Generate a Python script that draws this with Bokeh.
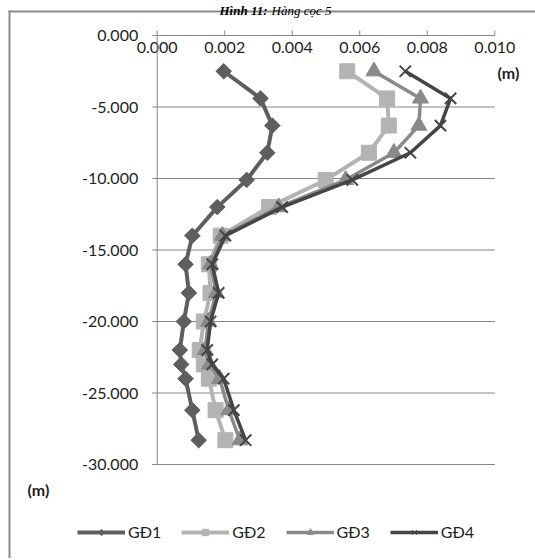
from bokeh.plotting import figure
from bokeh.models import Range1d, Legend, LegendItem, Label
from bokeh.core.properties import value
from bokeh.embed import file_html
from bokeh.resources import INLINE
import math

# ---- data (horizontal displacement in m vs depth in m) ----
depth = [-2.5, -4.4, -6.3, -8.2, -10.1, -12.0, -14.0, -16.0, -18.0, -20.0, -22.0, -23.0, -24.0, -26.2, -28.3]
gd1 = [0.00197, 0.00306, 0.00341, 0.00326, 0.00265, 0.00178, 0.00104, 0.00084, 0.00094, 0.00079, 0.00067, 0.00071, 0.00084, 0.00104, 0.00123]
gd2 = [0.00563, 0.00681, 0.00686, 0.00627, 0.00499, 0.00331, 0.00188, 0.00153, 0.00158, 0.00138, 0.00126, 0.00138, 0.00153, 0.00173, 0.00202]
gd3 = [0.00642, 0.00780, 0.00775, 0.00701, 0.00558, 0.00360, 0.00193, 0.00158, 0.00175, 0.00152, 0.00142, 0.00155, 0.00185, 0.00212, 0.00245]
gd4 = [0.00735, 0.00869, 0.00839, 0.00750, 0.00578, 0.00370, 0.00202, 0.00163, 0.00182, 0.00158, 0.00148, 0.00163, 0.00197, 0.00227, 0.00262]
series_names = ["GĐ1", "GĐ2", "GĐ3", "GĐ4"]

x_tick_values = [0.0, 0.002, 0.004, 0.006, 0.008, 0.010]
x_tick_labels = ["0.000", "0.002", "0.004", "0.006", "0.008", "0.010"]
y_tick_values = [0, -5, -10, -15, -20, -25, -30]
y_tick_labels = ["0.000", "-5.000", "-10.000", "-15.000", "-20.000", "-25.000", "-30.000"]
unit_label = "(m)"
caption_bold = "Hình 11:"
caption_rest = "Hàng cọc 5"

# ---- layout (page pixels, measured from the top-left corner) ----
W, H = 535, 558
PX_LEFT, PX_RIGHT = 156.7, 494.3   # page x of the first / last x tick
PX_TOP, PX_BOTTOM = 35.0, 464.0     # page y of the first / last y tick

x_min, x_max = x_tick_values[0], x_tick_values[-1]
y_max, y_min = y_tick_values[0], y_tick_values[-1]
kx = (PX_RIGHT - PX_LEFT) / (x_max - x_min)
ky = (PX_BOTTOM - PX_TOP) / (y_max - y_min)
X_START = x_min - PX_LEFT / kx
X_END = X_START + W / kx
Y_END = y_max + PX_TOP / ky
Y_START = Y_END - H / ky


def dx(px):
    return px / kx


def dy(px):
    return px / ky


def px2x(px):
    return X_START + px / kx


def py2y(py):
    return Y_END - py / ky


FONT = "Lato"
GRID = "#868686"
TXT = "#1e1e1e"

p = figure(width=W, height=H, output_backend="svg", toolbar_location=None,
           x_range=Range1d(X_START, X_END), y_range=Range1d(Y_START, Y_END),
           x_axis_location=None, y_axis_location=None, min_border=0)
p.outline_line_color = None
p.background_fill_color = "white"
p.border_fill_color = "white"
p.grid.visible = False
p.renderers = [r for r in p.renderers if r.__class__.__name__ != "Grid"]
p.center = [r for r in p.center if r.__class__.__name__ != "Grid"]

# outer chart box (left and top edges; the others lie outside the picture)
p.segment(x0=[px2x(9)], x1=[px2x(9)], y0=[py2y(H)], y1=[py2y(10)],
          line_color="#8a8a8a", line_width=2)
p.segment(x0=[px2x(8)], x1=[px2x(W)], y0=[py2y(11)], y1=[py2y(11)],
          line_color="#8a8a8a", line_width=2)

# horizontal gridlines
p.segment(x0=[x_min] * (len(y_tick_values) - 1), x1=[x_max] * (len(y_tick_values) - 1),
          y0=y_tick_values[1:], y1=y_tick_values[1:], line_color=GRID, line_width=1)

# top (x) axis: line at depth 0, ticks pointing up, labels under the line
p.segment(x0=[x_min], x1=[x_max], y0=[y_max], y1=[y_max], line_color=GRID, line_width=1)
p.segment(x0=x_tick_values, x1=x_tick_values, y0=[y_max] * len(x_tick_values),
          y1=[y_max + dy(5)] * len(x_tick_values), line_color=GRID, line_width=1)
p.text(x=x_tick_values, y=[y_max] * len(x_tick_values), text=x_tick_labels, y_offset=12,
       text_align="center", text_baseline="middle", text_font=value(FONT),
       text_font_size="16px", text_color=TXT)

# left (y) axis
p.segment(x0=[x_min], x1=[x_min], y0=[y_min], y1=[y_max], line_color=GRID, line_width=1)
p.segment(x0=[x_min - dx(5)] * len(y_tick_values), x1=[x_min] * len(y_tick_values),
          y0=y_tick_values, y1=y_tick_values, line_color=GRID, line_width=1)
p.text(x=[x_min] * len(y_tick_values), y=y_tick_values, text=y_tick_labels, x_offset=-19,
       text_align="right", text_baseline="middle", text_font=value(FONT),
       text_font_size="16px", text_color=TXT)

c1, c2, c3, c4 = "#5e5e5e", "#b3b3b3", "#8a8a8a", "#454545"

# small markers used by the legend (drawn first, hidden under the large markers)
m1 = p.scatter(gd1, depth, marker="diamond", size=10, fill_color=c1, line_color=c1)
m2 = p.scatter(gd2, depth, marker="square", size=8, fill_color=c2, line_color=c2)
m3 = p.scatter(gd3, depth, marker="triangle", size=9, fill_color=c3, line_color=c3)
m4 = p.scatter(gd4, depth, marker="x", size=9, line_color=c4, line_width=1)

# series
l1 = p.line(gd1, depth, line_color=c1, line_width=4)
p.scatter(gd1, depth, marker="square", angle=math.pi / 4, size=11, fill_color=c1, line_color=c1)
l2 = p.line(gd2, depth, line_color=c2, line_width=4)
p.scatter(gd2, depth, marker="square", size=15, fill_color=c2, line_color=c2)
l3 = p.line(gd3, depth, line_color=c3, line_width=3.5)
p.scatter(gd3, depth, marker="triangle", size=16, fill_color=c3, line_color=c3)
l4 = p.line(gd4, depth, line_color=c4, line_width=3.5)
p.scatter(gd4, depth, marker="x", size=16, line_color=c4, line_width=2)

legend = Legend(items=[LegendItem(label=series_names[0], renderers=[l1, m1]),
                       LegendItem(label=series_names[1], renderers=[l2, m2]),
                       LegendItem(label=series_names[2], renderers=[l3, m3]),
                       LegendItem(label=series_names[3], renderers=[l4, m4])],
                orientation="horizontal", location=(77, H - 541))
legend.border_line_color = None
legend.background_fill_alpha = 0
legend.padding = 0
legend.margin = 0
legend.spacing = 20
legend.glyph_width = 48
legend.glyph_height = 16
legend.label_standoff = 3
legend.label_height = 16
legend.label_text_font = FONT
legend.label_text_font_size = "16px"
legend.label_text_color = TXT
p.add_layout(legend)

# unit labels
p.add_layout(Label(x=497, y=H - 72, x_units="screen", y_units="screen", text=unit_label,
                   text_font=FONT, text_font_size="16px", text_font_style="bold",
                   text_color=TXT, text_baseline="middle"))
p.add_layout(Label(x=27, y=H - 489, x_units="screen", y_units="screen", text=unit_label,
                   text_font=FONT, text_font_size="16px", text_font_style="bold",
                   text_color=TXT, text_baseline="middle"))

# caption above the chart box
p.add_layout(Label(x=267, y=H - 9.5, x_units="screen", y_units="screen", text=caption_bold,
                   text_font="Liberation Serif", text_font_size="13px",
                   text_font_style="bold italic", text_color="#000000",
                   text_align="right", text_baseline="alphabetic"))
p.add_layout(Label(x=271, y=H - 9.5, x_units="screen", y_units="screen", text=caption_rest,
                   text_font="Liberation Serif", text_font_size="13px",
                   text_font_style="italic", text_color="#000000",
                   text_align="left", text_baseline="alphabetic"))

open("out.html", "w").write(file_html(p, INLINE))
